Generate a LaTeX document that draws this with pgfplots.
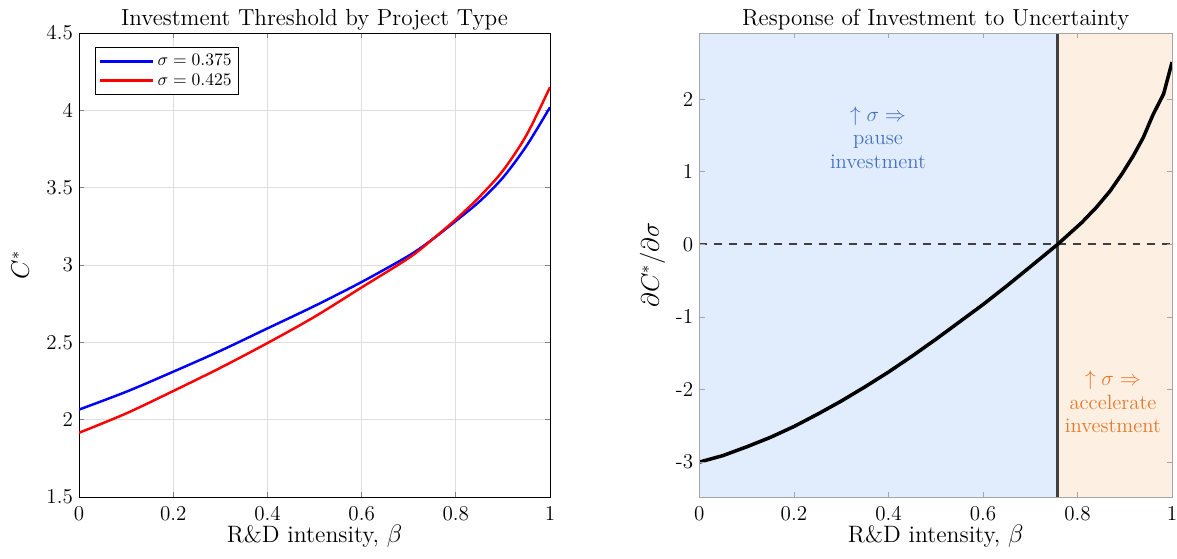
\documentclass[border=0pt]{standalone}
\usepackage{pgfplots}
\pgfplotsset{compat=1.18}
\definecolor{regblue}{RGB}{225,237,253}
\definecolor{regorange}{RGB}{253,239,225}
\definecolor{txtblue}{RGB}{70,114,196}
\definecolor{txtorange}{RGB}{228,122,46}
\definecolor{dgray}{RGB}{64,64,64}
\begin{document}
\begin{tikzpicture}
\pgfplotsset{
  every axis/.append style={
    scale only axis,
    width=268pt, height=264pt,
    xmin=0, xmax=1,
    xtick={0,0.2,0.4,0.6,0.8,1},
    xticklabels={0,0.2,0.4,0.6,0.8,1},
    tick align=inside,
    tick style={line width=0.4pt},
    major tick length=3pt,
    tick label style={font=\fontsize{12}{14}\selectfont},
    xticklabel style={yshift=-2pt},
    label style={font=\fontsize{13.5}{16}\selectfont},
    xlabel={R\&D intensity, $\beta$},
    xlabel style={at={(axis description cs:0.5,0)}, anchor=base, yshift=-26pt},
    title style={at={(axis description cs:0.5,1)}, anchor=base, yshift=-1.7pt,
      font=\fontsize{13.2}{15}\selectfont},
  }
}
\begin{axis}[
  ymin=1.5, ymax=4.5,
  ytick={1.5,2,2.5,3,3.5,4,4.5},
  yticklabels={1.5,2,2.5,3,3.5,4,4.5},
  grid=major,
  grid style={gray!25, line width=0.4pt},
  title={Investment Threshold by Project Type},
  ylabel={$C^{*}$},
  ylabel style={at={(axis description cs:-0.125,0.5)}, anchor=center},
  legend style={at={(0.034,0.97)}, anchor=north west, draw=black, line width=0.6pt,
    font=\normalsize, row sep=-1pt, inner sep=2pt},
  legend cell align=left,
  legend image code/.code={\draw[#1, line width=1.4pt] (0pt,0pt) -- (1.05cm,0pt);},
]
\addplot[blue, line width=1.4pt, smooth] coordinates {
  (0,2.065) (0.1,2.18) (0.2,2.31) (0.3,2.445) (0.4,2.59) (0.5,2.735) (0.6,2.89)
  (0.7,3.06) (0.75,3.165) (0.8,3.285) (0.85,3.41) (0.9,3.565) (0.95,3.77) (1,4.02)
};
\addlegendentry{$\sigma = 0.375$}
\addplot[red, line width=1.4pt, smooth] coordinates {
  (0,1.915) (0.1,2.04) (0.2,2.185) (0.3,2.335) (0.4,2.495) (0.5,2.665) (0.6,2.855)
  (0.7,3.045) (0.75,3.165) (0.8,3.295) (0.85,3.44) (0.9,3.61) (0.95,3.84) (1,4.15)
};
\addlegendentry{$\sigma = 0.425$}
\end{axis}

\begin{axis}[
  at={(353pt,0pt)},
  width=269pt,
  ymin=-3.48, ymax=2.91,
  ytick={-3,-2,-1,0,1,2},
  yticklabels={-3,-2,-1,0,1,2},
  axis on top,
  axis line style={gray!70},
  tick style={gray!70},
  title={Response of Investment to Uncertainty},
  ylabel={$\partial C^{*}/\partial\sigma$},
  ylabel style={at={(axis description cs:-0.099,0.5)}, anchor=center},
]
\addplot[fill=regblue, draw=none] coordinates {(0,-3.48) (0.758,-3.48) (0.758,2.91) (0,2.91)} -- cycle;
\addplot[fill=regorange, draw=none] coordinates {(0.758,-3.48) (1,-3.48) (1,2.91) (0.758,2.91)} -- cycle;
\addplot[dgray, line width=1pt, dash pattern=on 4.5pt off 4pt] coordinates {(0,0) (1,0)};
\addplot[dgray, line width=1.5pt] coordinates {(0.758,-3.48) (0.758,2.91)};
\addplot[black, line width=2pt] coordinates {
  (0,-3.0) (0.05,-2.91) (0.1,-2.79) (0.15,-2.66) (0.2,-2.51) (0.25,-2.34) (0.3,-2.16)
  (0.35,-1.965) (0.4,-1.76) (0.45,-1.54) (0.5,-1.31) (0.55,-1.07) (0.6,-0.83)
  (0.65,-0.575) (0.7,-0.31) (0.758,0) (0.809,0.30) (0.84,0.51) (0.869,0.735)
  (0.895,0.98) (0.918,1.22) (0.939,1.47) (0.96,1.79) (0.982,2.07) (1,2.51)
};
\node[txtblue, align=center, font=\fontsize{11.8}{13.5}\selectfont] at (axis cs:0.378,1.47)
  {$\uparrow\sigma\Rightarrow$\\pause\\investment};
\node[txtorange, align=center, font=\fontsize{11.8}{13.5}\selectfont] at (axis cs:0.875,-2.17)
  {$\uparrow\sigma\Rightarrow$\\accelerate\\investment};
\end{axis}
\pgfresetboundingbox
\useasboundingbox (-45pt,-35.3pt) rectangle (624.8pt,282.8pt);
\end{tikzpicture}
\end{document}
